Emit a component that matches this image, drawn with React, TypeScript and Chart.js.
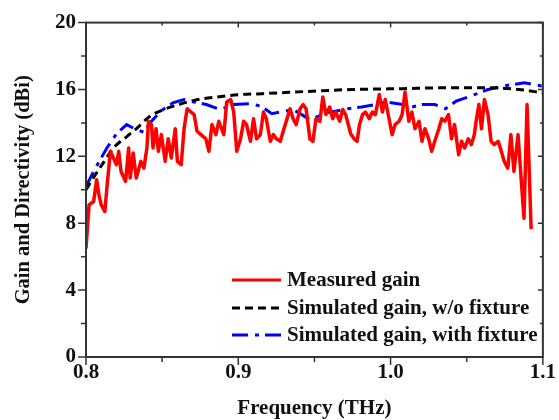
import React, { useEffect, useRef } from "react";
import { Chart, registerables } from "chart.js";

Chart.register(...registerables);

const xTicks = [0.8, 0.9, 1.0, 1.1];
const yTicks = [0, 4, 8, 12, 16, 20];

const seriesNames = [
  "Measured gain",
  "Simulated gain, w/o fixture",
  "Simulated gain, with fixture",
];

const measuredFreq = [
  0.8, 0.802, 0.805, 0.807, 0.8085, 0.81, 0.8124, 0.8137, 0.816, 0.818, 0.82, 0.8215, 0.823, 0.826,
  0.828, 0.829, 0.831, 0.833, 0.836, 0.838, 0.84, 0.841, 0.843, 0.844, 0.846, 0.8475, 0.8495, 0.852,
  0.854, 0.856, 0.8586, 0.86, 0.8625, 0.8644, 0.8664, 0.869, 0.871, 0.8729, 0.8755, 0.8787, 0.8807,
  0.8827, 0.8853, 0.8872, 0.8905, 0.8924, 0.895, 0.897, 0.899, 0.9015, 0.9035, 0.9054, 0.908, 0.91,
  0.912, 0.9145, 0.9165, 0.9184, 0.921, 0.923, 0.925, 0.9276, 0.9295, 0.9315, 0.934, 0.936, 0.938,
  0.9406, 0.9425, 0.9445, 0.947, 0.949, 0.951, 0.9536, 0.9555, 0.9575, 0.96, 0.962, 0.964, 0.9666,
  0.9686, 0.9705, 0.9738, 0.9764, 0.978, 0.9796, 0.9816, 0.9835, 0.986, 0.988, 0.99, 0.9926, 0.9946,
  0.9965, 0.999, 1.001, 1.003, 1.0056, 1.0076, 1.0095, 1.012, 1.014, 1.016, 1.0187, 1.0206, 1.0226,
  1.025, 1.027, 1.029, 1.0317, 1.0336, 1.0356, 1.038, 1.04, 1.042, 1.0447, 1.0466, 1.0486, 1.051,
  1.053, 1.055, 1.0564, 1.058, 1.0597, 1.0616, 1.064, 1.066, 1.068, 1.0707, 1.0727, 1.0746, 1.077,
  1.079, 1.081, 1.0837, 1.0857, 1.0876, 1.0896, 1.0923,
];
const measuredGain = [
  6.5, 9.1, 9.3, 10.6, 9.7, 9.1, 8.7, 10.1, 12.3, 11.9, 11.5, 12.3, 11.1, 10.5,
  12.5, 10.7, 12.2, 10.7, 11.7, 11.3, 12.5, 14.1, 13.9, 12.5, 13.65, 12.3, 13.3, 11.7,
  13.05, 11.9, 13.65, 11.7, 11.5, 13.65, 14.85, 14.65, 14.5, 13.5, 13.3, 13.05, 12.3,
  13.9, 13.3, 14.1, 13.3, 15.25, 15.4, 14.65, 12.3, 13.05, 14.1, 13.9, 12.9, 14.25,
  13.05, 13.3, 14.65, 14.25, 12.9, 13.3, 13.05, 12.9, 13.5, 14.1, 14.85, 14.25, 13.9,
  14.85, 15.1, 14.85, 13.05, 12.9, 14.25, 14.1, 15.55, 14.5, 14.95, 14.25, 14.65, 14.1,
  14.8, 14.5, 13.35, 13.0, 12.9, 13.9, 14.5, 14.65, 14.25, 14.65, 14.5, 15.7, 14.65,
  15.4, 14.25, 13.3, 13.9, 14.1, 14.5, 15.85, 14.1, 14.65, 13.65, 14.1, 12.9, 13.65,
  13.05, 12.3, 12.9, 13.65, 14.25, 14.1, 14.5, 13.05, 13.9, 12.1, 12.9, 12.5, 13.05,
  12.7, 13.3, 14.25, 15.1, 13.65, 15.4, 14.5, 12.9, 12.7, 12.9, 12.3, 11.7, 11.3,
  13.3, 11.1, 13.3, 10.7, 8.3, 15.1, 7.65,
];

const simFreq = [
  0.8, 0.804, 0.812, 0.818, 0.827, 0.833, 0.842, 0.851, 0.861, 0.871, 0.886, 0.902, 0.916, 0.949,
  0.975, 1.008, 1.036, 1.064, 1.084, 1.1,
];
const simGain = [
  10.0, 10.6, 11.7, 12.5, 13.2, 13.65, 14.4, 14.8, 15.1, 15.35, 15.55, 15.7, 15.75, 15.9,
  16.0, 16.05, 16.1, 16.1, 16.0, 15.8,
];

const fixtureFreq = [
  0.8, 0.805, 0.8137, 0.82, 0.8267, 0.833, 0.838, 0.843, 0.849, 0.857, 0.8644, 0.871, 0.879, 0.888,
  0.897, 0.908, 0.915, 0.922, 0.936, 0.947, 0.958, 0.972, 0.981, 0.99, 0.997, 1.008, 1.014, 1.021,
  1.029, 1.036, 1.043, 1.051, 1.064, 1.069, 1.077, 1.088, 1.1,
];
const fixtureGain = [
  10.2, 11.1, 12.5, 13.35, 13.9, 13.6, 13.45, 14.1, 14.7, 15.2, 15.4, 15.25, 15.1, 14.8,
  15.1, 15.15, 15.0, 14.55, 14.8, 14.2, 14.6, 14.85, 14.95, 15.1, 15.25, 15.1, 14.95, 15.1,
  15.1, 14.85, 15.3, 15.55, 16.0, 16.1, 16.25, 16.4, 16.2,
];

const FONT = "'Liberation Serif', 'Times New Roman', serif";
const AXIS_COLOR = "#333";
const TEXT_COLOR = "#111";

const styles = [
  { color: "#ff0000", dash: [] as number[] },
  { color: "#000000", dash: [8, 5] },
  { color: "#0000ff", dash: [16, 7, 4, 6] },
];

const framePlugin = {
  id: "frameAndExtras",
  afterDraw(chart: any) {
    const ctx = chart.ctx;
    const { left, right, top, bottom } = chart.chartArea;
    const xs = chart.scales.x;
    const ys = chart.scales.y;
    ctx.save();
    ctx.strokeStyle = AXIS_COLOR;
    ctx.lineWidth = 2;
    ctx.setLineDash([]);
    ctx.strokeRect(left, top, right - left, bottom - top);
    ctx.lineWidth = 1.5;
    for (let i = 0; i < xTicks.length; i++) {
      const px = xs.getPixelForValue(xTicks[i]);
      ctx.beginPath();
      ctx.moveTo(px, bottom);
      ctx.lineTo(px, bottom + 8);
      ctx.moveTo(px, top);
      ctx.lineTo(px, top + 5);
      ctx.stroke();
      if (i < xTicks.length - 1) {
        const mx = xs.getPixelForValue((xTicks[i] + xTicks[i + 1]) / 2);
        ctx.beginPath();
        ctx.moveTo(mx, bottom);
        ctx.lineTo(mx, bottom + 5);
        ctx.moveTo(mx, top);
        ctx.lineTo(mx, top + 3);
        ctx.stroke();
      }
    }
    for (let i = 0; i < yTicks.length; i++) {
      const py = ys.getPixelForValue(yTicks[i]);
      ctx.beginPath();
      ctx.moveTo(left, py);
      ctx.lineTo(left - 8, py);
      ctx.moveTo(right, py);
      ctx.lineTo(right - 5, py);
      ctx.stroke();
      if (i < yTicks.length - 1) {
        const my = ys.getPixelForValue((yTicks[i] + yTicks[i + 1]) / 2);
        ctx.beginPath();
        ctx.moveTo(left, my);
        ctx.lineTo(left - 5, my);
        ctx.moveTo(right, my);
        ctx.lineTo(right - 3, my);
        ctx.stroke();
      }
    }
    ctx.fillStyle = TEXT_COLOR;
    ctx.font = `bold 21px ${FONT}`;
    ctx.textAlign = "center";
    ctx.textBaseline = "middle";
    ctx.fillText("Frequency (THz)", (left + right) / 2, 409);
    ctx.save();
    ctx.font = `bold 20.5px ${FONT}`;
    ctx.translate(24, (top + bottom) / 2);
    ctx.rotate(-Math.PI / 2);
    ctx.fillText("Gain and Directivity (dBi)", 0, 0);
    ctx.restore();
    const rows = [280, 308, 335];
    ctx.textAlign = "left";
    ctx.font = `bold 21px ${FONT}`;
    for (let i = 0; i < 3; i++) {
      ctx.strokeStyle = styles[i].color;
      ctx.lineWidth = 3;
      ctx.setLineDash(styles[i].dash);
      ctx.beginPath();
      ctx.moveTo(232, rows[i]);
      ctx.lineTo(281, rows[i]);
      ctx.stroke();
      ctx.setLineDash([]);
      ctx.fillStyle = TEXT_COLOR;
      ctx.fillText(seriesNames[i], 287, rows[i] + 1);
    }
    ctx.restore();
  },
};

export default function App() {
  const ref = useRef<HTMLCanvasElement | null>(null);
  useEffect(() => {
    if (!ref.current) return;
    const toPts = (xs: number[], ys: number[]) => xs.map((x, i) => ({ x, y: ys[i] }));
    const chart = new Chart(ref.current, {
      type: "line",
      data: {
        datasets: [
          {
            label: seriesNames[0],
            data: toPts(measuredFreq, measuredGain),
            borderColor: styles[0].color,
            borderWidth: 3.5,
            pointRadius: 0,
            tension: 0,
            borderJoinStyle: "round",
          },
          {
            label: seriesNames[1],
            data: toPts(simFreq, simGain),
            borderColor: styles[1].color,
            borderWidth: 3,
            borderDash: styles[1].dash,
            pointRadius: 0,
            cubicInterpolationMode: "monotone",
          },
          {
            label: seriesNames[2],
            data: toPts(fixtureFreq, fixtureGain),
            borderColor: styles[2].color,
            borderWidth: 3,
            borderDash: styles[2].dash,
            pointRadius: 0,
            tension: 0,
          },
        ],
      },
      options: {
        animation: false,
        responsive: false,
        maintainAspectRatio: false,
        layout: { padding: { left: 0, top: 20, right: 12, bottom: 0 } },
        plugins: { legend: { display: false }, tooltip: { enabled: false } },
        scales: {
          x: {
            type: "linear",
            min: 0.8,
            max: 1.1,
            afterBuildTicks: (s: any) => {
              s.ticks = xTicks.map((v) => ({ value: v }));
            },
            afterFit: (s: any) => {
              s.height = 63;
            },
            ticks: {
              callback: (v: any) => Number(v).toFixed(1),
              font: { family: FONT, size: 21, weight: "bold" },
              color: TEXT_COLOR,
              padding: 3,
              maxRotation: 0,
            },
            grid: { display: false, drawTicks: false, tickLength: 0 },
            border: { display: false },
          },
          y: {
            type: "linear",
            min: 0,
            max: 20,
            afterBuildTicks: (s: any) => {
              s.ticks = yTicks.map((v) => ({ value: v }));
            },
            afterFit: (s: any) => {
              s.width = 86;
            },
            ticks: {
              font: { family: FONT, size: 21, weight: "bold" },
              color: TEXT_COLOR,
              padding: 10,
            },
            grid: { display: false, drawTicks: false, tickLength: 0 },
            border: { display: false },
          },
        },
      },
      plugins: [framePlugin],
    });
    return () => chart.destroy();
  }, []);
  return (
    <div style={{ position: "fixed", left: 0, top: 0, width: 559, height: 420, background: "#fff" }}>
      <canvas ref={ref} width={559} height={420} />
    </div>
  );
}
